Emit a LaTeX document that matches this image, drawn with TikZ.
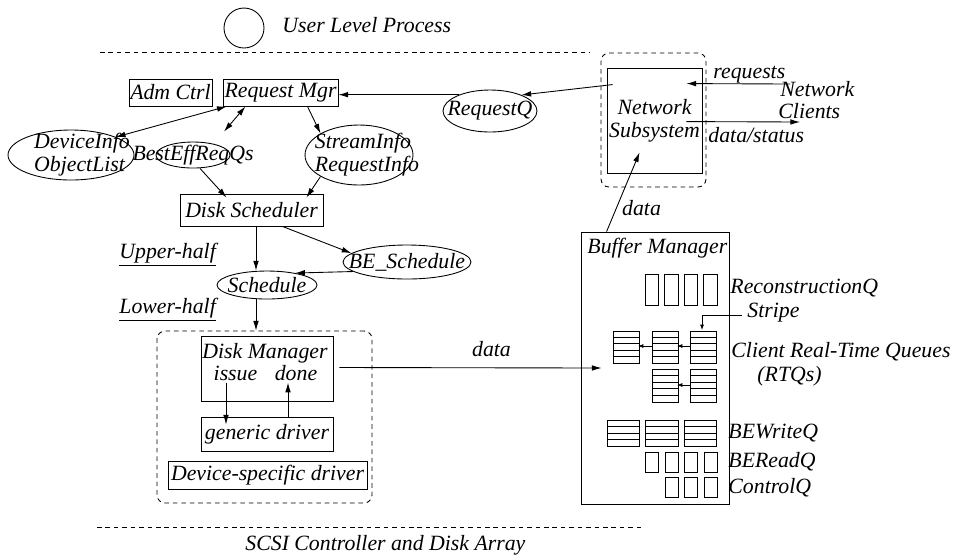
\documentclass[tikz,border=0pt]{standalone}
\usepackage{fontspec}
\setmainfont{Liberation Serif}
\usetikzlibrary{arrows.meta, calc, shapes.geometric}

\begin{document}
\begin{tikzpicture}[x=0.02cm, y=-0.02cm, line width=0.5pt,
  every node/.style={font=\itshape\fontsize{12.4}{13}\selectfont, inner sep=0pt},
  >={Latex[length=5.5pt,width=3.2pt]},
  blk/.style={draw, rectangle, minimum height=0.54cm},
  oval/.style={draw, ellipse},
  grp/.style={draw, dash pattern=on 2.6pt off 2.2pt, rounded corners=4.5pt},
  sep/.style={dash pattern=on 2.6pt off 2.2pt},
  small tip/.style={-{Latex[length=3pt,width=2.2pt]}, line width=0.4pt},
  lbl/.style={anchor=base west}]

  \useasboundingbox (0,0) rectangle (953,556);

  % user level
  \node[draw, circle, minimum size=0.8cm] (proc) at (244,28) {};
  \node[lbl] (ulp) at (282,32) {User Level Process};
  \draw[sep] (100,52) -- (590,52);

  % request handling
  \node[blk, minimum width=1.66cm] (adm) at (170.5,92.5) {Adm Ctrl};
  \node[blk, minimum width=2.30cm] (reqmgr) at (280.5,92.5) {Request Mgr};
  \node[oval, minimum width=1.88cm, minimum height=0.84cm, label=center:RequestQ] (reqq) at (490,111) {};
  \node[oval, minimum width=2.52cm, minimum height=1cm,
        label={[align=left, xshift=0.22cm]center:{DeviceInfo\\ObjectList}}] (devinfo) at (71,155) {};
  \node[oval, minimum width=1.48cm, minimum height=0.52cm, label=center:BestEffReqQs] (besteff) at (193,155) {};
  \node[oval, minimum width=2.16cm, minimum height=1.2cm,
        label={[align=left, xshift=0.16cm]center:{StreamInfo\\RequestInfo}}] (strinfo) at (359,155) {};
  \node[blk, minimum width=2.86cm, minimum height=0.64cm] (dsched) at (251.5,210) {Disk Scheduler};

  % network side
  \node[grp, minimum width=2.10cm, minimum height=2.68cm] (netgrp) at (653.5,120) {};
  \node[draw, minimum width=1.90cm, minimum height=2.10cm, align=center] (netsub) at (654.5,120.5) {Network\\Subsystem};
  \node[lbl] (reqlbl) at (713,78) {requests};
  \node[lbl] (netcl) at (780,96) {Network};
  \node[lbl] (clients) at (778,118) {Clients};
  \node[lbl] (dslbl) at (708,142) {data/status};
  \coordinate (clin) at (790,84);
  \coordinate (clout) at (800,122);

  % scheduling
  \coordinate (spine) at (256,0);
  \node[lbl] (upper) at (119,258) {\underline{Upper-half}};
  \node[lbl] (lower) at (119,313) {\underline{Lower-half}};
  \node[oval, minimum width=2.56cm, minimum height=0.68cm, label=center:BE\_Schedule] (besched) at (407,262) {};
  \node[oval, minimum width=2.00cm, minimum height=0.56cm, label=center:Schedule] (sched) at (267,285) {};

  % disk manager group
  \node[grp, minimum width=4.30cm, minimum height=3.44cm] (lowgrp) at (264.5,417) {};
  \node[draw, minimum width=2.64cm, minimum height=1.30cm] (dmgr) at (267,368.5) {};
  \node[anchor=base] (dmtitle) at (265,358) {Disk Manager};
  \node[anchor=base] (issue) at (235.5,380) {issue};
  \node[anchor=base] (done) at (296,380) {done};
  \node[blk, minimum width=2.64cm, minimum height=0.68cm] (gendrv) at (267,434) {generic driver};
  \node[blk, minimum width=3.98cm, minimum height=0.56cm] (devdrv) at (267.5,475) {Device-specific driver};

  % buffer manager
  \node[draw, minimum width=2.96cm, minimum height=5.44cm] (bufmgr) at (655,368) {};
  \node[lbl] (buftitle) at (587,253) {Buffer Manager};
  \node[lbl] (recq) at (730,293) {ReconstructionQ};
  \node[lbl] (stripe) at (747,317) {Stripe};
  \node[lbl] (rtq) at (731,357) {Client Real-Time Queues};
  \node[lbl] (rtqs) at (757,381) {(RTQs)};
  \node[lbl] (bewq) at (728,438) {BEWriteQ};
  \node[lbl] (berq) at (728,467) {BEReadQ};
  \node[lbl] (ctlq) at (728,493) {ControlQ};

  % queue slots
  \foreach \x in {645,664.5,684,703.5} \draw (\x,274) rectangle ++(13.5,31);
  \foreach \x in {613,652,690} {
    \draw (\x,331) rectangle ++(26,32);
    \foreach \r in {1,...,4} \draw (\x,331+\r*6.4) -- ++(26,0);
  }
  \foreach \x in {652,690} {
    \draw (\x,369) rectangle ++(26,33);
    \foreach \r in {1,...,4} \draw (\x,369+\r*6.6) -- ++(26,0);
  }
  \foreach \x in {607,645.5,684} {
    \draw (\x,420) rectangle ++(32.5,26);
    \foreach \r in {1,...,3} \draw (\x,420+\r*6.5) -- ++(32.5,0);
  }
  \foreach \x in {645.5,665,684.5,704} \draw (\x,452) rectangle ++(13,20);
  \foreach \x in {665,684.5,704} \draw (\x,477) rectangle ++(13,20);
  \draw[small tip] (690,346) -- (677,346);
  \draw[small tip] (652,346) -- (638,346);
  \draw[small tip] (690,385) -- (677,385);
  \draw[small tip] ($(stripe.base west)+(-5,-2)$) -| (702,330);

  % connectors
  \draw[->] (reqq.152) -- (reqq.152 -| reqmgr.east);
  \draw[->] ($(netsub.north west)+(6,17)$) -- (reqq.27);
  \draw[->] (clin) -- ($(netsub.north east)+(-16,16)$);
  \draw[->] ($(netsub.north east)+(-16,54)$) -- (clout);
  \draw[->] ($(bufmgr.north west)+(26,0)$) -- node[right=3pt, pos=0.3] (updata) {data} ($(netsub.south west)+(33,-21)$);
  \draw[<->] ($(reqmgr.south west)+(4,0)$) -- (devinfo.north east);
  \draw[<->] ($(reqmgr.south)+(-35,0)$) -- ($(besteff.north)+(31,-10)$);
  \draw[->] ($(reqmgr.south)+(27,0)$) -- (strinfo.north west);
  \draw[->] ($(besteff.south)+(7,0)$) -- ($(dsched.north west)+(47,4)$);
  \draw[->] (strinfo.south west) -- ($(dsched.north east)+(-17,4)$);
  \draw[->] (dsched.south -| spine) -- (sched.north -| spine);
  \draw[->] ($(dsched.south)+(31,0)$) -- (besched.171);
  \draw[->] (besched.190) -- (sched.23);
  \draw[->] (sched.south -| spine) -- (lowgrp.north -| spine);
  \draw[->] ($(issue.south)+(-9.5,2)$) -- ($(gendrv.north)+(-41,8)$);
  \draw[->] ($(gendrv.north)+(21,0)$) -- ($(done.south)+(-8,2)$);
  \draw[->] ($(dmgr.east)+(6,-1)$) -- node[above=6pt, pos=0.58] (lowdata) {data} ($(bufmgr.west)+(21,0)$);

  % disk array
  \draw[sep] (97,527) -- (645,527);
  \node[lbl] (scsi) at (245,550) {SCSI Controller and Disk Array};
\end{tikzpicture}
\end{document}
